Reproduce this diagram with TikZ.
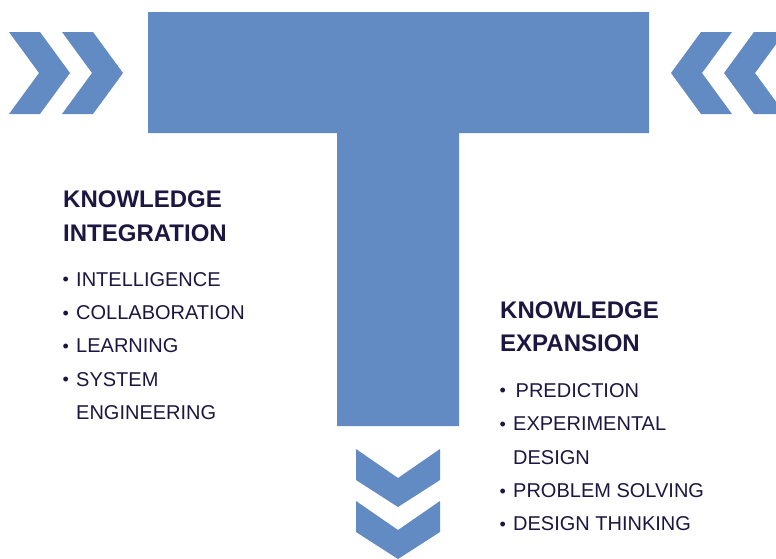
\documentclass[tikz,border=0pt]{standalone}
\usepackage{fontspec}
\setmainfont{Liberation Sans}
\definecolor{tblue}{RGB}{98,138,195}
\definecolor{navy}{RGB}{28,22,64}
\newcommand\mybul{\makebox[14pt][l]{\hspace{0.5pt}\raisebox{0.5pt}{\fontsize{18}{18}\selectfont•}}}
\begin{document}
\begin{tikzpicture}[x=1pt,y=-1pt,
  head/.style={anchor=base west,inner sep=0pt,text=navy,font=\fontsize{24}{28}\selectfont\bfseries},
  item/.style={anchor=base west,inner sep=0pt,text=navy,font=\fontsize{20}{24}\selectfont}]
\useasboundingbox (0,0) rectangle (776,558);
\begin{scope}
\clip (0,0) rectangle (776,558);
% T shape
\fill[tblue] (148,12) -- (649,12) -- (649,133) -- (459,133) -- (459,426) -- (337,426) -- (337,133) -- (148,133) -- cycle;
% left chevrons
\foreach \dx in {0,53}{
  \fill[tblue] ({9+\dx},32) -- ({40+\dx},32) -- ({70+\dx},73) -- ({40+\dx},114) -- ({9+\dx},114) -- ({39+\dx},73) -- cycle;
}
% right chevrons
\foreach \dx in {0,53}{
  \fill[tblue] ({671+\dx},73) -- ({701+\dx},32) -- ({732+\dx},32) -- ({702+\dx},73) -- ({732+\dx},114) -- ({701+\dx},114) -- cycle;
}
% down chevrons
\foreach \dy in {0,52}{
  \fill[tblue] (356,{449+\dy}) -- (398,{478+\dy}) -- (440,{449+\dy}) -- (440,{480+\dy}) -- (398,{507+\dy}) -- (356,{480+\dy}) -- cycle;
}
\end{scope}
% left text
\node[head] (h1a) at (63,207) {KNOWLEDGE};
\node[head] (h1b) at (63,241.5) {INTEGRATION};
\node[item] (l1) at (62,286) {\mybul INTELLIGENCE};
\node[item] (l2) at (62,319.5) {\mybul COLLABORATION};
\node[item] (l3) at (62,352.5) {\mybul LEARNING};
\node[item] (l4) at (62,386) {\mybul SYSTEM};
\node[item] (l5) at (76,419) {ENGINEERING};
% right text
\node[head] (h2a) at (500,318) {KNOWLEDGE};
\node[head] (h2b) at (500,351.5) {EXPANSION};
\node[item] (r1) at (499,397) {\mybul\hspace{2.5pt}PREDICTION};
\node[item] (r2) at (499,430.5) {\mybul EXPERIMENTAL};
\node[item] (r3) at (513,464) {DESIGN};
\node[item] (r4) at (499,497.5) {\mybul PROBLEM SOLVING};
\node[item] (r5) at (499,530.5) {\mybul DESIGN THINKING};
\end{tikzpicture}
\end{document}
